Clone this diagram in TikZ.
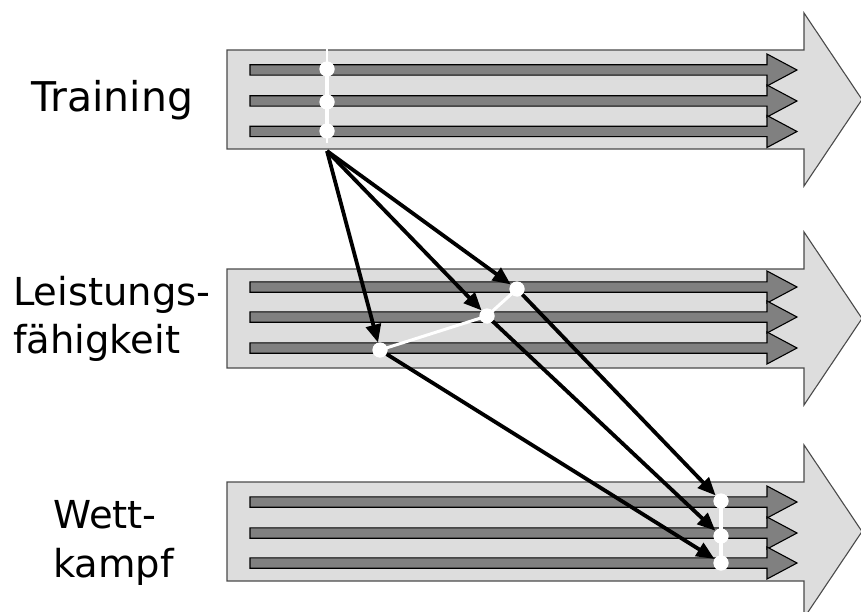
\documentclass[tikz,border=0pt]{standalone}
\usepackage{fontspec}
\setmainfont{DejaVu Sans}
\usetikzlibrary{arrows.meta}
\definecolor{bigfill}{HTML}{DDDDDD}
\definecolor{bigline}{HTML}{4A4A4A}
\definecolor{barfill}{HTML}{808080}
\newcommand\drawbig[1]{\draw[bigarrow] (227,#1) -- (804,#1) -- (804,#1-37) -- (862,#1+49.5) -- (804,#1+136) -- (804,#1+99) -- (227,#1+99) -- cycle;}
\newcommand\drawbar[1]{\draw[bararrow] (250,#1-5.2) -- (767,#1-5.2) -- (767,#1-16) -- (797,#1) -- (767,#1+16) -- (767,#1+5.2) -- (250,#1+5.2) -- cycle;}
\begin{document}
\begin{tikzpicture}[x=1pt,y=-1pt,
  bigarrow/.style={fill=bigfill, draw=bigline, line width=1.1pt},
  bararrow/.style={fill=barfill, draw=black, line width=1.1pt, line join=miter},
  dot/.style={circle, fill=white, inner sep=0pt, minimum size=15pt},
  link/.style={draw=black, line width=3.8pt, -{Triangle[length=18pt,width=15pt]}},
  chain/.style={draw=white, line width=3.5pt},
  lbl/.style={inner sep=0pt, anchor=base west, font=\fontsize{38.5}{46}\selectfont}]
\useasboundingbox (0,0) rectangle (861,612);
\clip (0,0) rectangle (861,612);
% big arrows
\drawbig{50}
\drawbig{269}
\drawbig{482}
% bars
\drawbar{70}\drawbar{101}\drawbar{131.5}
\drawbar{287}\drawbar{317}\drawbar{348}
\drawbar{502}\drawbar{533}\drawbar{563}
% labels
\node[lbl, font=\fontsize{41}{49}\selectfont] (tr) at (31,112) {Training};
\node[lbl] (le1) at (13,305) {Leistungs-};
\node[lbl] (le2) at (13,353) {fähigkeit};
\node[lbl] (we1) at (53,528) {Wett-};
\node[lbl] (we2) at (53,577) {kampf};
% points
\coordinate (ttop) at (327,49);
\coordinate (tbot) at (327,143);
\coordinate (apex) at (327,151);
\node[dot] (t1) at (327,69) {};
\node[dot] (t2) at (327,102) {};
\node[dot] (t3) at (327,131) {};
\node[dot] (l1) at (380,350) {};
\node[dot] (l2) at (487,316) {};
\node[dot] (l3) at (517,289) {};
\node[dot] (w1) at (721,501) {};
\node[dot] (w2) at (721,536) {};
\node[dot] (w3) at (721,563) {};
% white chains
\draw[white, line width=1.5pt] (ttop) -- (tbot);
\draw[chain, line width=4.5pt] (t1.center) -- (t3.center);
\draw[chain, line width=3pt] (l1.center) -- (l2.center) -- (l3.center);
\draw[chain, line width=4.5pt] (w1.center) -- (w3.center);
% redraw dots above chains
\foreach \n in {t1,t2,t3,l1,l2,l3,w1,w2,w3}{\fill[white] (\n) circle (7.5pt);}
% links
\draw[link] (apex) -- (l1);
\draw[link] (apex) -- (l2);
\draw[link] (apex) -- (l3);
\draw[link] (l3) -- (w1);
\draw[link] (l2) -- (w2);
\draw[link] (l1) -- (w3);
\end{tikzpicture}
\end{document}
